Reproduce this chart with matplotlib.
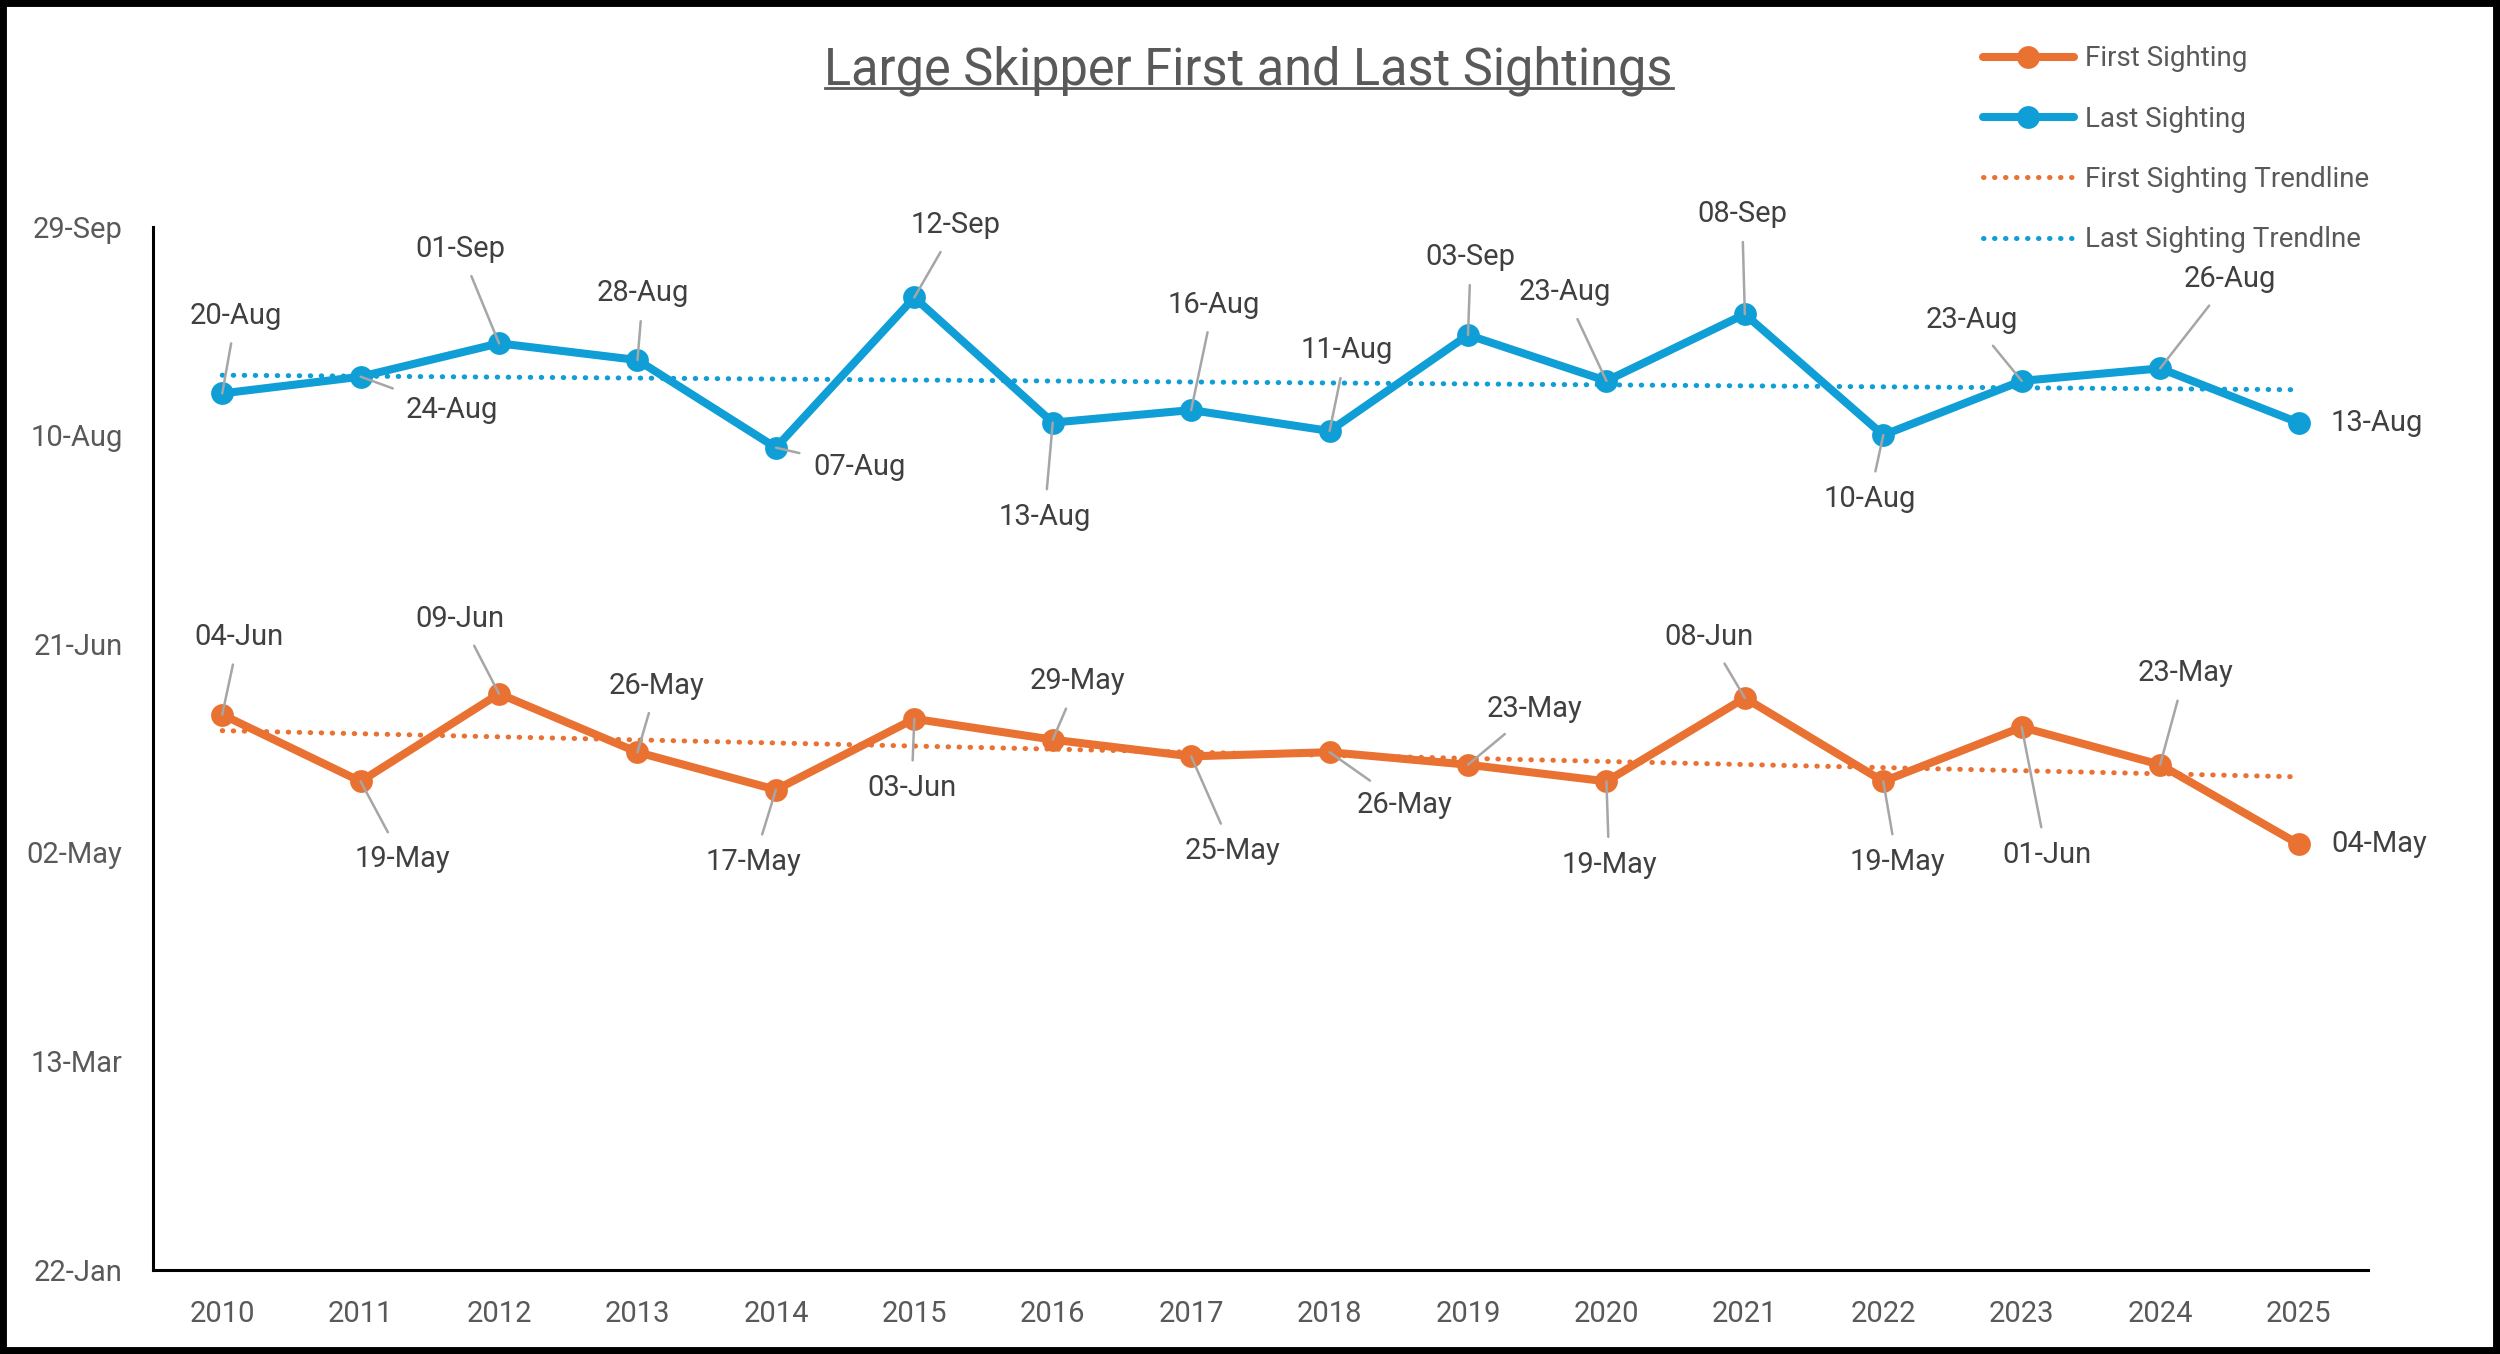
import datetime as dt
import numpy as np
import matplotlib
matplotlib.use("Agg")
import matplotlib.pyplot as plt
from matplotlib.ticker import FixedLocator, FuncFormatter
from matplotlib.lines import Line2D
from matplotlib.patches import Rectangle

plt.rcParams['font.family'] = ['Roboto', 'DejaVu Sans']

# Data: sighting dates per year (dd-Mon)
years = ['2010', '2011', '2012', '2013', '2014', '2015', '2016', '2017',
         '2018', '2019', '2020', '2021', '2022', '2023', '2024', '2025']
first_sighting = ['04-Jun', '19-May', '09-Jun', '26-May', '17-May', '03-Jun', '29-May', '25-May',
                  '26-May', '23-May', '19-May', '08-Jun', '19-May', '01-Jun', '23-May', '04-May']
last_sighting = ['20-Aug', '24-Aug', '01-Sep', '28-Aug', '07-Aug', '12-Sep', '13-Aug', '16-Aug',
                 '11-Aug', '03-Sep', '23-Aug', '08-Sep', '10-Aug', '23-Aug', '26-Aug', '13-Aug']
y_ticks = ['22-Jan', '13-Mar', '02-May', '21-Jun', '10-Aug', '29-Sep']

# label offsets in points (dx, dy) for each data label
first_offsets = [(6, 28), (15, -28), (-14, 27), (7, 24), (-8, -26), (-1, -25), (9, 21), (15, -34),
                 (27, -19), (24, 20), (1, -30), (-13, 22), (5, -29), (9, -46), (9, 33), (29, 0)]
last_offsets = [(5, 28), (33, -12), (-14, 34), (2, 24), (30, -7), (15, 26), (-3, -34), (8, 38),
                (6, 29), (1, 28), (-15, 32), (-1, 36), (-5, -23), (-18, 22), (25, 32), (28, 0)]

ORANGE = '#E97132'
BLUE = '#0F9ED5'
LABEL_COL = '#404040'
TICK_COL = '#595959'
DOTS = (0.1, 2.1)


def to_day(s):
    d = dt.datetime.strptime(s + '-2001', '%d-%b-%Y')
    return d.timetuple().tm_yday


def day_fmt(v, pos=None):
    d = dt.date(2001, 1, 1) + dt.timedelta(days=int(round(v)) - 1)
    return d.strftime('%d-%b')


first_days = np.array([to_day(s) for s in first_sighting])
last_days = np.array([to_day(s) for s in last_sighting])
tick_days = [to_day(s) for s in y_ticks]
x = np.arange(len(years))

fig = plt.figure(figsize=(12.5, 6.77), dpi=200)
ax = fig.add_axes([0.0612, 0.0624, 0.8859, 0.7703])

# trendlines
fit_f = np.polyfit(x, first_days, 1)
fit_l = np.polyfit(x, last_days, 1)
ax.plot(x, np.polyval(fit_f, x), color=ORANGE, lw=1.8, dashes=DOTS,
        dash_capstyle='round', zorder=2)
ax.plot(x, np.polyval(fit_l, x), color=BLUE, lw=1.8, dashes=DOTS,
        dash_capstyle='round', zorder=2)

l1, = ax.plot(x, first_days, color=ORANGE, lw=2.9, marker='o', markersize=7.2,
              solid_capstyle='round', zorder=3)
l2, = ax.plot(x, last_days, color=BLUE, lw=2.9, marker='o', markersize=7.2,
              solid_capstyle='round', zorder=3)

for vals, texts, offs in [(first_days, first_sighting, first_offsets),
                          (last_days, last_sighting, last_offsets)]:
    for i in range(len(years)):
        dx, dy = offs[i]
        if dy != 0:
            arrow = dict(arrowstyle='-', color='#A6A6A6', lw=0.9, shrinkA=3, shrinkB=0)
        else:
            arrow = None
        ax.annotate(texts[i], xy=(x[i], vals[i]), xytext=(dx, dy), textcoords='offset points',
                    ha='center', va='center', fontsize=10.5, color=LABEL_COL,
                    arrowprops=arrow, zorder=5)

ax.set_xlim(-0.5, len(years) - 0.5)
ax.set_ylim(tick_days[0], tick_days[-1])
ax.set_xticks(x)
ax.set_xticklabels(years)
ax.yaxis.set_major_locator(FixedLocator(tick_days))
ax.yaxis.set_major_formatter(FuncFormatter(day_fmt))
ax.tick_params(axis='both', length=0, labelsize=10.5, labelcolor=TICK_COL)
ax.tick_params(axis='y', pad=11)
ax.tick_params(axis='x', pad=11)
for s in ['top', 'right']:
    ax.spines[s].set_visible(False)
for s in ['left', 'bottom']:
    ax.spines[s].set_linewidth(1.1)
    ax.spines[s].set_color('black')

# legend (order as in reference)
h_ft = Line2D([], [], color=ORANGE, lw=1.8, dashes=DOTS, dash_capstyle='round')
h_lt = Line2D([], [], color=BLUE, lw=1.8, dashes=DOTS, dash_capstyle='round')
leg = fig.legend([l1, l2, h_ft, h_lt],
                 ['First Sighting', 'Last Sighting', 'First Sighting Trendline', 'Last Sighting Trendlne'],
                 loc='upper left', bbox_to_anchor=(0.783, 0.985), frameon=False,
                 fontsize=10, handlelength=3.3, handletextpad=0.4, labelspacing=1.2,
                 labelcolor=TICK_COL)

# title with underline
title = fig.text(0.4995, 0.948, 'Large Skipper First and Last Sightings', ha='center', va='center',
                 fontsize=18.2, color=TICK_COL)
fig.canvas.draw()
bb = title.get_window_extent().transformed(fig.transFigure.inverted())
fig.add_artist(Line2D([bb.x0, bb.x1], [bb.y0 + 0.006, bb.y0 + 0.006], color=TICK_COL, lw=1.0,
                      transform=fig.transFigure))

# outer black frame
fig.add_artist(Rectangle((0, 0), 1, 1, transform=fig.transFigure, fill=False,
                         edgecolor='black', lw=5))

fig.savefig('out.png', dpi=200)
